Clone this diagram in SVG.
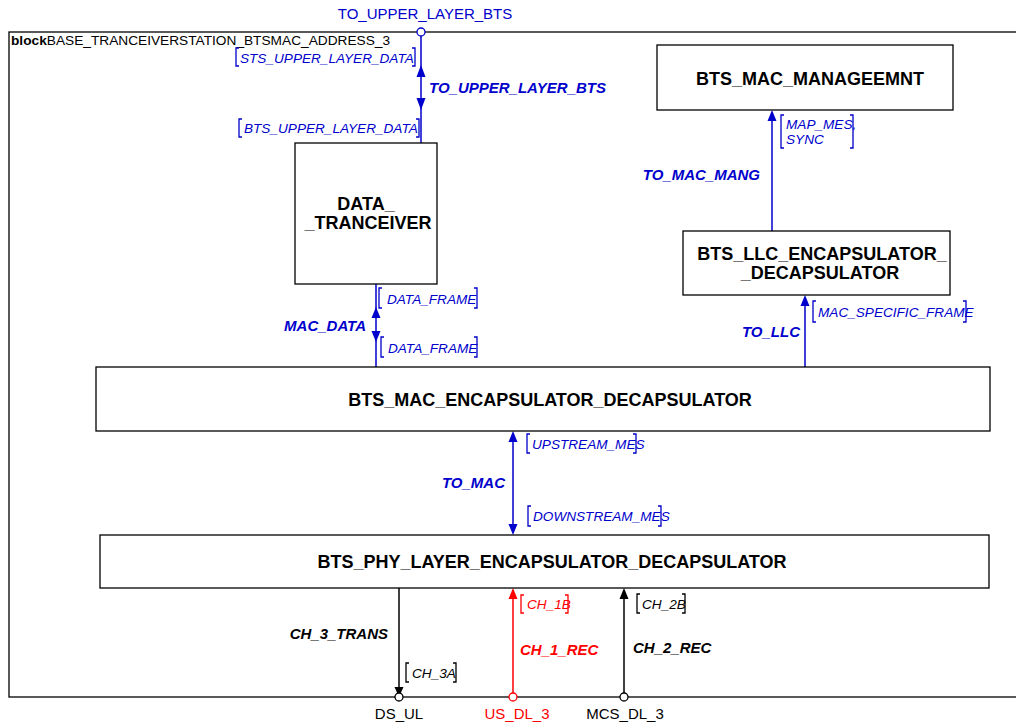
<svg xmlns="http://www.w3.org/2000/svg" width="1016" height="724" viewBox="0 0 1016 724">
<style>
.box{fill:#fff;stroke:#000;stroke-width:1.3}
.bt{font-family:"Liberation Sans",Arial,sans-serif;font-weight:bold;font-size:18px;text-anchor:middle;fill:#000}
.lab{font-family:"Liberation Sans",Arial,sans-serif;font-style:italic;font-size:13.6px}
.cl{font-family:"Liberation Sans",Arial,sans-serif;font-style:italic;font-weight:bold;font-size:15px}
.pl{font-family:"Liberation Sans",Arial,sans-serif;font-size:15px;text-anchor:middle}
.blue{fill:#0000cc}
.red{fill:#ff0000}
.blk{fill:#000}
.lb{stroke:#0000cc;stroke-width:1.5;fill:none}
.lr{stroke:#ff0000;stroke-width:1.5;fill:none}
.lk{stroke:#000;stroke-width:1.5;fill:none}
.brb{stroke:#0000cc;stroke-width:1.3;fill:none}
.brr{stroke:#ff0000;stroke-width:1.3;fill:none}
.brk{stroke:#000;stroke-width:1.3;fill:none}
.port{fill:#fff;stroke-width:1.3}
</style>
<rect width="1016" height="724" fill="#fff"/>
<g id="frame">
<rect x="9" y="32" width="1020" height="665" fill="none" stroke="#000" stroke-width="1.3"/>
<text x="11" y="45" font-family="Liberation Sans, Arial, sans-serif" font-size="13.7" fill="#000"><tspan font-weight="bold">block</tspan>BASE_TRANCEIVERSTATION_BTSMAC_ADDRESS_3</text>
</g>
<g id="connectors">
<g id="c_to_upper">
<line class="lb" x1="421" y1="36" x2="421" y2="143"/>
<polygon class="blue" points="421,65 416.5,77 425.5,77"/>
<polygon class="blue" points="421,110 416.5,98 425.5,98"/>
<text class="cl blue" x="429" y="93">TO_UPPER_LAYER_BTS</text>
<path class="brb" d="M239 48H236V66H239M412 48H415V66H412"/>
<text class="lab blue" x="240" y="63">STS_UPPER_LAYER_DATA</text>
<path class="brb" d="M242 119H239V137H242M416 119H419V137H416"/>
<text class="lab blue" x="244" y="133">BTS_UPPER_LAYER_DATA</text>
</g>
<g id="c_mac_data">
<line class="lb" x1="376" y1="284" x2="376" y2="367"/>
<polygon class="blue" points="376,307 371.5,318 380.5,318"/>
<polygon class="blue" points="376,342 371.5,331 380.5,331"/>
<text class="cl blue" x="366" y="331" text-anchor="end">MAC_DATA</text>
<path class="brb" d="M382 288H379V308H382M474 288H477V308H474"/>
<text class="lab blue" x="387" y="304">DATA_FRAME</text>
<path class="brb" d="M384 337H381V357H384M474 337H477V357H474"/>
<text class="lab blue" x="388" y="353">DATA_FRAME</text>
</g>
<g id="c_to_mac_mang">
<line class="lb" x1="772" y1="231" x2="772" y2="115"/>
<polygon class="blue" points="772,110 767.5,121 776.5,121"/>
<text class="cl blue" x="760" y="180" text-anchor="end">TO_MAC_MANG</text>
<path class="brb" d="M784 115H781V148H784M850 115H853V148H850"/>
<text class="lab blue" x="786" y="129">MAP_MES,</text>
<text class="lab blue" x="786" y="144">SYNC</text>
</g>
<g id="c_to_llc">
<line class="lb" x1="805" y1="367" x2="805" y2="300"/>
<polygon class="blue" points="805,295 800.5,306 809.5,306"/>
<text class="cl blue" x="800" y="337" text-anchor="end">TO_LLC</text>
<path class="brb" d="M816 301H813V322H816M963 301H966V322H963"/>
<text class="lab blue" x="818" y="317">MAC_SPECIFIC_FRAME</text>
</g>
<g id="c_to_mac">
<line class="lb" x1="513" y1="436" x2="513" y2="530"/>
<polygon class="blue" points="513,431 508.5,442 517.5,442"/>
<polygon class="blue" points="513,535 508.5,524 517.5,524"/>
<text class="cl blue" x="505" y="488" text-anchor="end">TO_MAC</text>
<path class="brb" d="M530 434H527V453H530M633 434H636V453H633"/>
<text class="lab blue" x="532" y="449">UPSTREAM_MES</text>
<path class="brb" d="M531 506H528V526H531M658 506H661V526H658"/>
<text class="lab blue" x="533" y="521">DOWNSTREAM_MES</text>
</g>
<g id="c_ch3">
<line class="lk" x1="399" y1="588" x2="399" y2="690"/>
<polygon class="blk" points="399,697 394.5,687 403.5,687"/>
<text class="cl blk" x="388" y="639" text-anchor="end">CH_3_TRANS</text>
<path class="brk" d="M409 663H406V682H409M453 663H456V682H453"/>
<text class="lab blk" x="412" y="678">CH_3A</text>
</g>
<g id="c_ch1">
<line class="lr" x1="513" y1="693" x2="513" y2="594"/>
<polygon class="red" points="513,588 508.5,599 517.5,599"/>
<text class="cl red" x="520" y="655">CH_1_REC</text>
<path class="brr" d="M524 595H521V613H524M565 595H568V613H565"/>
<text class="lab red" x="527" y="609">CH_1B</text>
</g>
<g id="c_ch2">
<line class="lk" x1="624" y1="693" x2="624" y2="594"/>
<polygon class="blk" points="624,588 619.5,599 628.5,599"/>
<text class="cl blk" x="633" y="653">CH_2_REC</text>
<path class="brk" d="M640 594H637V613H640M682 594H685V613H682"/>
<text class="lab blk" x="642" y="609">CH_2B</text>
</g>
</g>
<g id="ports">
<circle class="port" cx="421" cy="32" r="4" stroke="#0000cc"/>
<text class="pl blue" x="425" y="19">TO_UPPER_LAYER_BTS</text>
<circle class="port" cx="399" cy="697" r="4" stroke="#000"/>
<text class="pl blk" x="399" y="719">DS_UL</text>
<circle class="port" cx="513" cy="697" r="4" stroke="#ff0000"/>
<text class="pl red" x="517" y="719">US_DL_3</text>
<circle class="port" cx="624" cy="697" r="4" stroke="#000"/>
<text class="pl blk" x="625" y="719">MCS_DL_3</text>
</g>
<g id="data_tranceiver">
<rect class="box" x="295" y="143" width="142" height="141"/>
<text class="bt" x="366" y="210">DATA_</text>
<text class="bt" x="368" y="229">_TRANCEIVER</text>
</g>
<g id="bts_mac_manageemnt">
<rect class="box" x="657" y="45" width="296" height="65"/>
<text class="bt" x="810" y="85">BTS_MAC_MANAGEEMNT</text>
</g>
<g id="bts_llc">
<rect class="box" x="683" y="231" width="267" height="64"/>
<text class="bt" x="822" y="260">BTS_LLC_ENCAPSULATOR_</text>
<text class="bt" x="820" y="279">_DECAPSULATOR</text>
</g>
<g id="bts_mac_encap">
<rect class="box" x="96" y="367" width="894" height="64"/>
<text class="bt" x="550" y="406">BTS_MAC_ENCAPSULATOR_DECAPSULATOR</text>
</g>
<g id="bts_phy">
<rect class="box" x="100" y="535" width="889" height="53"/>
<text class="bt" x="552" y="568">BTS_PHY_LAYER_ENCAPSULATOR_DECAPSULATOR</text>
</g>
</svg>
